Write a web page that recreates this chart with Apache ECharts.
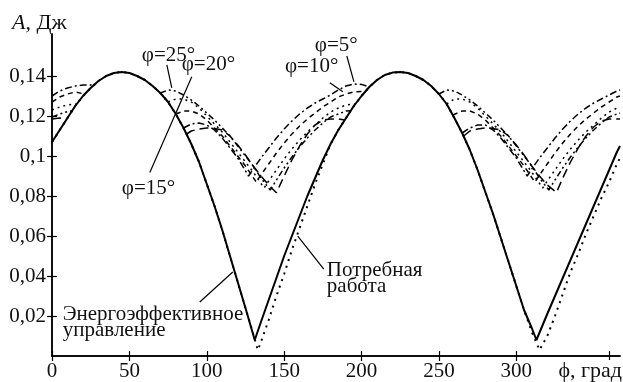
<!DOCTYPE html>
<html><head><meta charset="utf-8">
<script src="https://cdn.jsdelivr.net/npm/echarts@6/dist/echarts.min.js"></script>
<style>html,body{margin:0;padding:0;background:#fff}#c{width:623px;height:382px}</style>
</head><body><div id="c"></div>
<script>
// ---- data ----
const xTickValues = [0, 50, 100, 150, 200, 250, 300, 360];
const xLabelValues = [0, 50, 100, 150, 200, 250, 300];
const yTickValues = [0.02, 0.04, 0.06, 0.08, 0.1, 0.12, 0.14];

const energyEfficient = [[0,0.107],[5,0.113],[10,0.119],[15,0.125],[20,0.130],[25,0.134],[30,0.1375],[35,0.140],[40,0.1415],[45,0.142],[50,0.1415],[55,0.140],[60,0.138],[65,0.135],[70,0.1315],[75,0.127],[80,0.121],[85,0.114],[90,0.106],[95,0.097],[100,0.086],[105,0.075],[110,0.063],[115,0.050],[120,0.037],[125,0.024],[131,0.008],[135,0.017],[140,0.028],[145,0.039],[150,0.050],[155,0.060],[160,0.070],[165,0.080],[170,0.089],[175,0.098],[180,0.106],[185,0.113],[190,0.119],[195,0.125],[200,0.130],[205,0.1345],[210,0.138],[215,0.1405],[220,0.1417],[225,0.142],[230,0.1415],[235,0.140],[240,0.138],[245,0.135],[250,0.131],[255,0.126],[260,0.119],[265,0.1115],[270,0.103],[275,0.093],[280,0.082],[285,0.071],[290,0.059],[295,0.047],[300,0.035],[305,0.023],[310,0.014],[313,0.008],[320,0.021],[325,0.030],[330,0.039],[335,0.048],[340,0.057],[345,0.066],[350,0.075],[355,0.084],[360,0.093],[365,0.102],[367,0.105]];

const requiredWork = [[0,0.107],[5,0.113],[10,0.119],[15,0.125],[20,0.130],[25,0.134],[30,0.1375],[35,0.140],[40,0.1415],[45,0.142],[50,0.1415],[55,0.140],[60,0.138],[65,0.135],[70,0.1315],[75,0.127],[80,0.121],[85,0.114],[90,0.106],[95,0.097],[100,0.086],[105,0.075],[110,0.063],[115,0.050],[120,0.037],[125,0.024],[130,0.011],[133,0.003],[135,0.007],[140,0.018],[145,0.030],[150,0.041],[155,0.053],[160,0.064],[165,0.075],[170,0.086],[175,0.096],[180,0.106],[185,0.113],[190,0.119],[195,0.125],[200,0.130],[205,0.1345],[210,0.138],[215,0.1405],[220,0.1417],[225,0.142],[230,0.1415],[235,0.140],[240,0.138],[245,0.135],[250,0.131],[255,0.126],[260,0.119],[265,0.1115],[270,0.103],[275,0.093],[280,0.082],[285,0.071],[290,0.059],[295,0.047],[300,0.035],[305,0.023],[310,0.012],[315,0.003],[320,0.010],[325,0.020],[330,0.031],[335,0.042],[340,0.051],[345,0.061],[350,0.070],[355,0.079],[360,0.087],[365,0.096],[367,0.099]];

const phi5 = [[0,0.130],[5,0.1325],[10,0.134],[15,0.135],[20,0.1355],[25,0.1355],[28,0.136],null,
 [85,0.114],[90,0.116],[95,0.1165],[100,0.1155],[105,0.113],[110,0.109],[115,0.104],[120,0.099],[127,0.090],[130,0.0935],[135,0.099],[140,0.104],[145,0.109],[150,0.1135],[155,0.1175],[160,0.121],[165,0.124],[170,0.1265],[175,0.1285],[180,0.1305],[185,0.133],[190,0.135],[195,0.136],[200,0.1358],[205,0.1345],null,
 [265,0.1115],[270,0.114],[275,0.1155],[280,0.1155],[285,0.113],[290,0.109],[295,0.104],[300,0.099],[307,0.090],[310,0.0935],[315,0.099],[320,0.104],[325,0.109],[330,0.1135],[335,0.1175],[340,0.121],[345,0.124],[350,0.1265],[355,0.1285],[360,0.1305],[365,0.1325],[367,0.133]];

const phi10 = [[0,0.127],[5,0.1295],[10,0.131],[15,0.132],[21,0.131],null,
 [80,0.121],[85,0.1225],[90,0.1225],[95,0.121],[100,0.118],[105,0.114],[110,0.110],[115,0.105],[120,0.100],[125,0.095],[132,0.087],[135,0.0905],[140,0.096],[145,0.1015],[150,0.1065],[155,0.111],[160,0.115],[165,0.1185],[170,0.1215],[175,0.1245],[180,0.127],[185,0.1295],[190,0.131],[195,0.132],[200,0.1322],[203,0.1328],null,
 [259,0.1205],[265,0.1225],[270,0.1225],[275,0.121],[280,0.118],[285,0.114],[290,0.110],[295,0.105],[300,0.100],[305,0.095],[312,0.087],[315,0.0905],[320,0.096],[325,0.1015],[330,0.1065],[335,0.111],[340,0.115],[345,0.1185],[350,0.1215],[355,0.1245],[360,0.127],[365,0.1295],[367,0.130]];

const phi15 = [[0,0.1185],[5,0.119],[9,0.1185],null,
 [87,0.111],[90,0.1125],[95,0.1135],[100,0.114],[105,0.1138],[110,0.113],[115,0.110],[120,0.1055],[125,0.1005],[130,0.095],[135,0.090],[140,0.0855],[145,0.0816],[150,0.090],[155,0.098],[160,0.105],[165,0.111],[170,0.1155],[175,0.118],[180,0.1185],[185,0.1185],[189,0.118],null,
 [266,0.110],[270,0.1125],[275,0.1135],[280,0.114],[285,0.1138],[290,0.113],[295,0.110],[300,0.1055],[305,0.1005],[310,0.095],[315,0.090],[320,0.0855],[326,0.0818],[330,0.089],[335,0.097],[340,0.104],[345,0.110],[350,0.1145],[355,0.1175],[360,0.1185],[365,0.1185],[367,0.1185]];

const phi20 = [[0,0.123],[5,0.1245],[10,0.1255],[16,0.126],null,
 [75,0.127],[80,0.1285],[85,0.1285],[90,0.127],[95,0.124],[100,0.120],[105,0.116],[110,0.112],[115,0.107],[120,0.102],[125,0.097],[130,0.092],[137,0.084],[140,0.0875],[145,0.093],[150,0.0985],[155,0.1035],[160,0.108],[165,0.112],[170,0.1155],[175,0.119],[180,0.122],[185,0.124],[190,0.1255],[196,0.126],null,
 [255,0.126],[260,0.1285],[265,0.1285],[270,0.127],[275,0.124],[280,0.120],[285,0.116],[290,0.112],[295,0.107],[300,0.102],[305,0.097],[310,0.092],[317,0.084],[320,0.0875],[325,0.093],[330,0.0985],[335,0.1035],[340,0.108],[345,0.112],[350,0.1155],[355,0.119],[360,0.122],[365,0.124],[367,0.1245]];

const phi25 = [[0,0.1195],[5,0.121],[10,0.1222],[13,0.1226],null,
 [70,0.1315],[75,0.133],[80,0.1325],[85,0.1305],[90,0.128],[95,0.125],[100,0.1215],[105,0.118],[110,0.114],[115,0.110],[120,0.105],[125,0.100],[130,0.095],[135,0.089],[141,0.083],[145,0.088],[150,0.094],[155,0.0995],[160,0.1045],[165,0.109],[170,0.113],[175,0.1165],[180,0.1195],[185,0.121],[190,0.1225],[193,0.1226],null,
 [250,0.131],[255,0.133],[260,0.1325],[265,0.1305],[270,0.128],[275,0.125],[280,0.1215],[285,0.118],[290,0.114],[295,0.110],[300,0.105],[305,0.100],[310,0.095],[315,0.089],[321,0.083],[325,0.088],[330,0.094],[335,0.0995],[340,0.1045],[345,0.109],[350,0.113],[355,0.1165],[360,0.1195],[365,0.121],[367,0.1215]];

// annotation texts (data coordinates)
const labels = [
  {text:'φ=25°', at:[58.0,0.1505]},
  {text:'φ=20°', at:[83.8,0.1456]},
  {text:'φ=15°', at:[45.1,0.0838]},
  {text:'φ=5°',  at:[169.8,0.1551]},
  {text:'φ=10°', at:[150.5,0.1448]},
  {text:'Энергоэффективное\nуправление', at:[6.9,0.0170]},
  {text:'Потребная\nработа', at:[177.6,0.0387]}
];
const leaders = [
  [[74.2,0.1456],[77.4,0.1341]],
  [[90.3,0.1396],[63.2,0.0918]],
  [[190.5,0.150],[195.1,0.1371]],
  [[179.5,0.1366],[187.9,0.1321]],
  [[95.5,0.0270],[116.8,0.0420]],
  [[158.8,0.0599],[175.6,0.0434]]
];

const FONT = 'Liberation Serif';
const chart = echarts.init(document.getElementById('c'), null, {renderer:'canvas'});
const axisLine = {show:true, lineStyle:{color:'#000', width:1.5}};
const fmtY = v => String(+v.toFixed(2)).replace('.', ',');
const lineSeries = (name, data, type, width) => ({
  name, type:'line', data, showSymbol:false, symbol:'none', connectNulls:false,
  lineStyle:{color:'#000', width, type}, z: 2, animation:false
});
chart.setOption({
  animation:false,
  backgroundColor:'#fff',
  textStyle:{fontFamily:FONT},
  grid:{left:52, right:3, top:34, bottom:25},
  xAxis:[
    {type:'value', min:0, max:367, position:'bottom', axisLine,
     axisTick:{show:true, inside:true, length:5, customValues:xTickValues, lineStyle:{color:'#000', width:1.2}},
     axisLabel:{customValues:xLabelValues, color:'#111', fontFamily:FONT, fontSize:21, margin:5},
     splitLine:{show:false}},
    {type:'value', min:0, max:367, position:'top', axisLine,
     axisTick:{show:true, inside:true, length:5, customValues:xTickValues, lineStyle:{color:'#000', width:1.2}},
     axisLabel:{show:false}, splitLine:{show:false}}
  ],
  yAxis:[
    {type:'value', min:0, max:0.161, position:'left', axisLine,
     axisTick:{show:true, inside:true, length:5, customValues:yTickValues, lineStyle:{color:'#000', width:1.2}},
     axisLabel:{customValues:yTickValues, formatter:fmtY, color:'#111', fontFamily:FONT, fontSize:21, margin:6},
     splitLine:{show:false}},
    {type:'value', min:0, max:0.161, position:'right', axisLine,
     axisTick:{show:true, inside:true, length:5, customValues:yTickValues, lineStyle:{color:'#000', width:1.2}},
     axisLabel:{show:false}, splitLine:{show:false}}
  ],
  series:[
    lineSeries('φ=5°', phi5, [7,3,2,3], 1.5),
    lineSeries('φ=10°', phi10, [5,4], 1.5),
    lineSeries('φ=15°', phi15, [9,5], 1.5),
    lineSeries('φ=20°', phi20, [2,4], 1.5),
    lineSeries('φ=25°', phi25, [6,3,2,3,2,3], 1.5),
    lineSeries('Потребная работа', requiredWork, [2,5], 2),
    lineSeries('Энергоэффективное управление', energyEfficient, 'solid', 2)
  ]
});

const px = p => chart.convertToPixel({xAxisIndex:0, yAxisIndex:0}, p);
const graphics = [];
labels.forEach(l => {
  const [x, y] = px(l.at);
  graphics.push({type:'text', x, y, z:10, style:{text:l.text, fontFamily:FONT, fontSize:21, fill:'#111', verticalAlign:'middle', lineHeight:16}});
});
leaders.forEach(seg => {
  const a = px(seg[0]), b = px(seg[1]);
  graphics.push({type:'line', z:10, shape:{x1:a[0], y1:a[1], x2:b[0], y2:b[1]}, style:{stroke:'#000', lineWidth:1.2}});
});
graphics.push({type:'text', left:12, top:12, z:10, style:{text:'{i|A}, Дж', fontFamily:FONT, fontSize:22, fill:'#111', rich:{i:{fontStyle:'italic', fontFamily:FONT, fontSize:22}}}});
graphics.push({type:'text', right:1, top:360, z:10, style:{text:'ϕ, град', fontFamily:FONT, fontSize:22, fill:'#111', backgroundColor:'#fff'}});
chart.setOption({graphic:graphics});
</script>
</body></html>
